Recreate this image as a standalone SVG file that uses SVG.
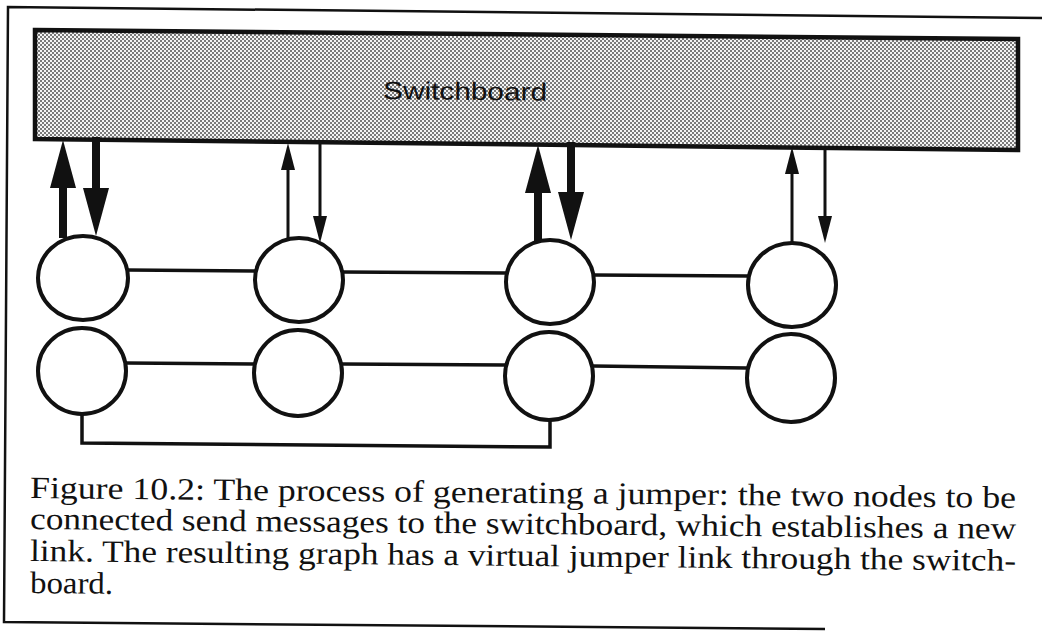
<svg xmlns="http://www.w3.org/2000/svg" width="1042" height="631" viewBox="0 0 1042 631">
<style>
.ln{fill:none;stroke:#111;stroke-width:3.5}
.nd{fill:#fff;stroke:#111;stroke-width:4}
.thk{fill:none;stroke:#111;stroke-width:8}
.thn{fill:none;stroke:#111;stroke-width:3}
.cap{font-family:"Liberation Serif","Times New Roman",serif;font-size:31px;fill:#111}
.lbl{font-family:"Liberation Sans",Arial,sans-serif;font-size:25px;fill:#111}
</style>
<defs>
<pattern id="dots" width="4" height="4" patternUnits="userSpaceOnUse">
<rect width="4" height="4" fill="#f4f4f4"/>
<rect x="0" y="0" width="2" height="2" fill="#7a7a7a"/>
<rect x="2" y="2" width="2" height="2" fill="#7a7a7a"/>
</pattern>
<marker id="hThick" viewBox="0 0 48 26" refX="0" refY="13" markerWidth="48" markerHeight="26" markerUnits="userSpaceOnUse" orient="auto">
<path d="M0,0 L48,13 L0,26 Z" fill="#111"/>
</marker>
<marker id="hThin" viewBox="0 0 27 14" refX="0" refY="7" markerWidth="27" markerHeight="14" markerUnits="userSpaceOnUse" orient="auto">
<path d="M0,0 L27,7 L0,14 Z" fill="#111"/>
</marker>
</defs>
<rect width="1042" height="631" fill="#fff"/>
<g id="frame">
<polyline points="1042,18 8,7 4,622 825,629" fill="none" stroke="#111" stroke-width="2.5"/>
</g>
<g id="switchboard">
<polygon points="35,30 1018,39 1018,150 35,139" fill="url(#dots)" stroke="#111" stroke-width="4.5"/>
<text class="lbl" x="383" y="99" textLength="164" lengthAdjust="spacingAndGlyphs" transform="rotate(0.57 383 99)">Switchboard</text>
</g>
<g id="connectors">
<line class="ln" x1="127" y1="270" x2="255" y2="271"/>
<line class="ln" x1="343" y1="272" x2="506" y2="273"/>
<line class="ln" x1="594" y1="275" x2="748" y2="276"/>
<line class="ln" x1="126" y1="363" x2="254" y2="364"/>
<line class="ln" x1="342" y1="364" x2="505" y2="365"/>
<line class="ln" x1="593" y1="366" x2="747" y2="368"/>
<polyline class="ln" points="82,414 82,443 550,447 550,421"/>
<line class="thk" x1="63" y1="238" x2="63" y2="188" marker-end="url(#hThick)"/>
<line class="thk" x1="96" y1="137" x2="96" y2="188" marker-end="url(#hThick)"/>
<line class="thn" x1="288" y1="238" x2="288" y2="170" marker-end="url(#hThin)"/>
<line class="thn" x1="320" y1="144" x2="320" y2="216" marker-end="url(#hThin)"/>
<line class="thk" x1="538" y1="241" x2="538" y2="193" marker-end="url(#hThick)"/>
<line class="thk" x1="571" y1="142" x2="571" y2="192" marker-end="url(#hThick)"/>
<line class="thn" x1="792" y1="243" x2="792" y2="174" marker-end="url(#hThin)"/>
<line class="thn" x1="825" y1="148" x2="825" y2="216" marker-end="url(#hThin)"/>
</g>
<g id="n1"><ellipse class="nd" cx="83" cy="278" rx="45" ry="42"/></g>
<g id="n2"><ellipse class="nd" cx="299" cy="280" rx="44" ry="42"/></g>
<g id="n3"><ellipse class="nd" cx="550" cy="282" rx="44" ry="42"/></g>
<g id="n4"><ellipse class="nd" cx="792" cy="285" rx="44" ry="42"/></g>
<g id="n5"><ellipse class="nd" cx="82" cy="371" rx="44" ry="43"/></g>
<g id="n6"><ellipse class="nd" cx="298" cy="373" rx="44" ry="43"/></g>
<g id="n7"><ellipse class="nd" cx="549" cy="376" rx="44" ry="44"/></g>
<g id="n8"><ellipse class="nd" cx="791" cy="378" rx="44" ry="44"/></g>
<g id="caption">
<text class="cap" x="30" y="498" textLength="986" lengthAdjust="spacingAndGlyphs" transform="rotate(0.57 30 498)">Figure 10.2: The process of generating a jumper: the two nodes to be</text>
<text class="cap" x="30" y="529" textLength="986" lengthAdjust="spacingAndGlyphs" transform="rotate(0.57 30 529)">connected send messages to the switchboard, which establishes a new</text>
<text class="cap" x="30" y="561" textLength="986" lengthAdjust="spacingAndGlyphs" transform="rotate(0.57 30 561)">link. The resulting graph has a virtual jumper link through the switch-</text>
<text class="cap" x="30" y="593" textLength="83" lengthAdjust="spacingAndGlyphs" transform="rotate(0.57 30 593)">board.</text>
</g>
</svg>
